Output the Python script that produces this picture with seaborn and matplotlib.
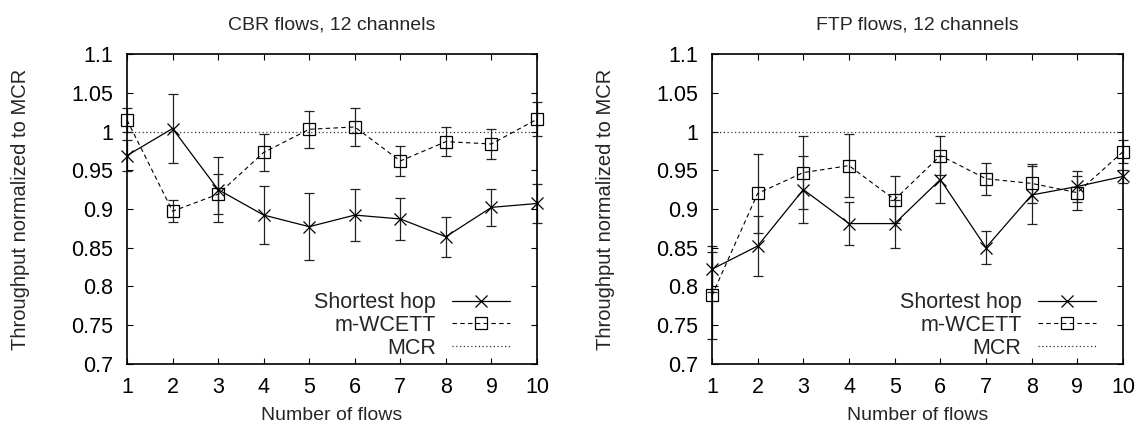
import matplotlib
matplotlib.use("Agg")
import matplotlib.pyplot as plt
import seaborn as sns
import pandas as pd
import numpy as np

# ---- data ----
flows = [1, 2, 3, 4, 5, 6, 7, 8, 9, 10]

cbr_sh = [0.969, 1.004, 0.925, 0.892, 0.877, 0.892, 0.887, 0.864, 0.902, 0.907]
cbr_sh_err = [0.020, 0.045, 0.042, 0.038, 0.043, 0.034, 0.027, 0.026, 0.024, 0.025]
cbr_mw = [1.015, 0.897, 0.919, 0.973, 1.003, 1.006, 0.962, 0.987, 0.984, 1.016]
cbr_mw_err = [0.015, 0.014, 0.026, 0.024, 0.024, 0.024, 0.020, 0.019, 0.020, 0.022]

ftp_sh = [0.822, 0.852, 0.925, 0.881, 0.881, 0.938, 0.850, 0.918, 0.929, 0.942]
ftp_sh_err = [0.030, 0.039, 0.043, 0.028, 0.031, 0.030, 0.021, 0.037, 0.020, 0.008]
ftp_mw = [0.788, 0.920, 0.947, 0.956, 0.912, 0.969, 0.939, 0.933, 0.921, 0.974]
ftp_mw_err = [0.056, 0.051, 0.047, 0.041, 0.030, 0.025, 0.021, 0.025, 0.022, 0.015]

mcr = [1.0, 1.0, 1.0, 1.0, 1.0, 1.0, 1.0, 1.0, 1.0, 1.0]

titles = ["CBR flows, 12 channels", "FTP flows, 12 channels"]
series_names = ["Shortest hop", "m-WCETT", "MCR"]
yticks = [0.7, 0.75, 0.8, 0.85, 0.9, 0.95, 1.0, 1.05, 1.1]
ytick_labels = ["0.7", "0.75", "0.8", "0.85", "0.9", "0.95", "1", "1.05", "1.1"]

sns.set_style("ticks")
plt.rcParams['font.family'] = ['Liberation Sans', 'DejaVu Sans']
FS_TICK = 15.5
FS_LAB = 14
FS_YLAB = 14.5

fig = plt.figure(figsize=(11.4, 4.3), dpi=100)
W, H = 1140, 430
ax_boxes = [(127, 537), (712, 1123)]
top_px, bot_px = 54.3, 363.5

panels = [
    (cbr_sh, cbr_sh_err, cbr_mw, cbr_mw_err),
    (ftp_sh, ftp_sh_err, ftp_mw, ftp_mw_err),
]
ylab_x = [-0.237, -0.237]

for i, (sh, she, mw, mwe) in enumerate(panels):
    l, r = ax_boxes[i]
    ax = fig.add_axes([l / W, 1 - bot_px / H, (r - l) / W, (bot_px - top_px) / H])
    df = pd.DataFrame({"flows": flows, "sh": sh, "mw": mw, "mcr": mcr})

    # error bars
    ax.errorbar(flows, sh, yerr=she, fmt='none', ecolor='#222222', elinewidth=0.9,
                capsize=3.5, capthick=0.9, clip_on=False, zorder=2)
    ax.errorbar(flows, mw, yerr=mwe, fmt='none', ecolor='#222222', elinewidth=0.9,
                capsize=3.5, capthick=0.9, clip_on=False, zorder=2)

    sns.lineplot(data=df, x="flows", y="sh", ax=ax, color='black', lw=0.9,
                 marker='x', markersize=9, markeredgewidth=0.9,
                 markeredgecolor='black', markerfacecolor='black',
                 label=series_names[0], clip_on=False, zorder=3)
    sns.lineplot(data=df, x="flows", y="mw", ax=ax, color='black', lw=0.8,
                 marker='s', markersize=8, markerfacecolor='none',
                 markeredgecolor='black', markeredgewidth=0.9,
                 dashes=(4, 3), label=series_names[1], clip_on=False, zorder=3)
    sns.lineplot(data=df, x="flows", y="mcr", ax=ax, color='#333333', lw=0.9,
                 dashes=(1, 2), label=series_names[2], zorder=1)

    ax.set_xlim(1, 10)
    ax.set_ylim(0.7, 1.1)
    ax.set_xticks(flows)
    ax.set_xticklabels([str(f) for f in flows], fontsize=FS_TICK)
    ax.set_yticks(yticks)
    ax.set_yticklabels(ytick_labels, fontsize=FS_TICK)
    ax.tick_params(direction='in', top=True, right=True, length=4, width=0.8,
                   pad=10, colors='black')
    for s in ax.spines.values():
        s.set_visible(True)
        s.set_linewidth(1.2)
        s.set_color('black')
    ax.set_xlabel("Number of flows", fontsize=FS_LAB, labelpad=6)
    ax.set_ylabel("Throughput normalized to MCR", fontsize=FS_YLAB)
    ax.yaxis.set_label_coords(ylab_x[i], 0.5)
    ax.set_title(titles[i], fontsize=FS_LAB, pad=18)

    leg = ax.legend(loc='lower right', frameon=False, fontsize=FS_TICK, markerfirst=False,
                    handlelength=2.7, handletextpad=0.75, labelspacing=0.08,
                    borderaxespad=0.0, bbox_to_anchor=(0.955, -0.012))

fig.savefig("out.png", dpi=100)
